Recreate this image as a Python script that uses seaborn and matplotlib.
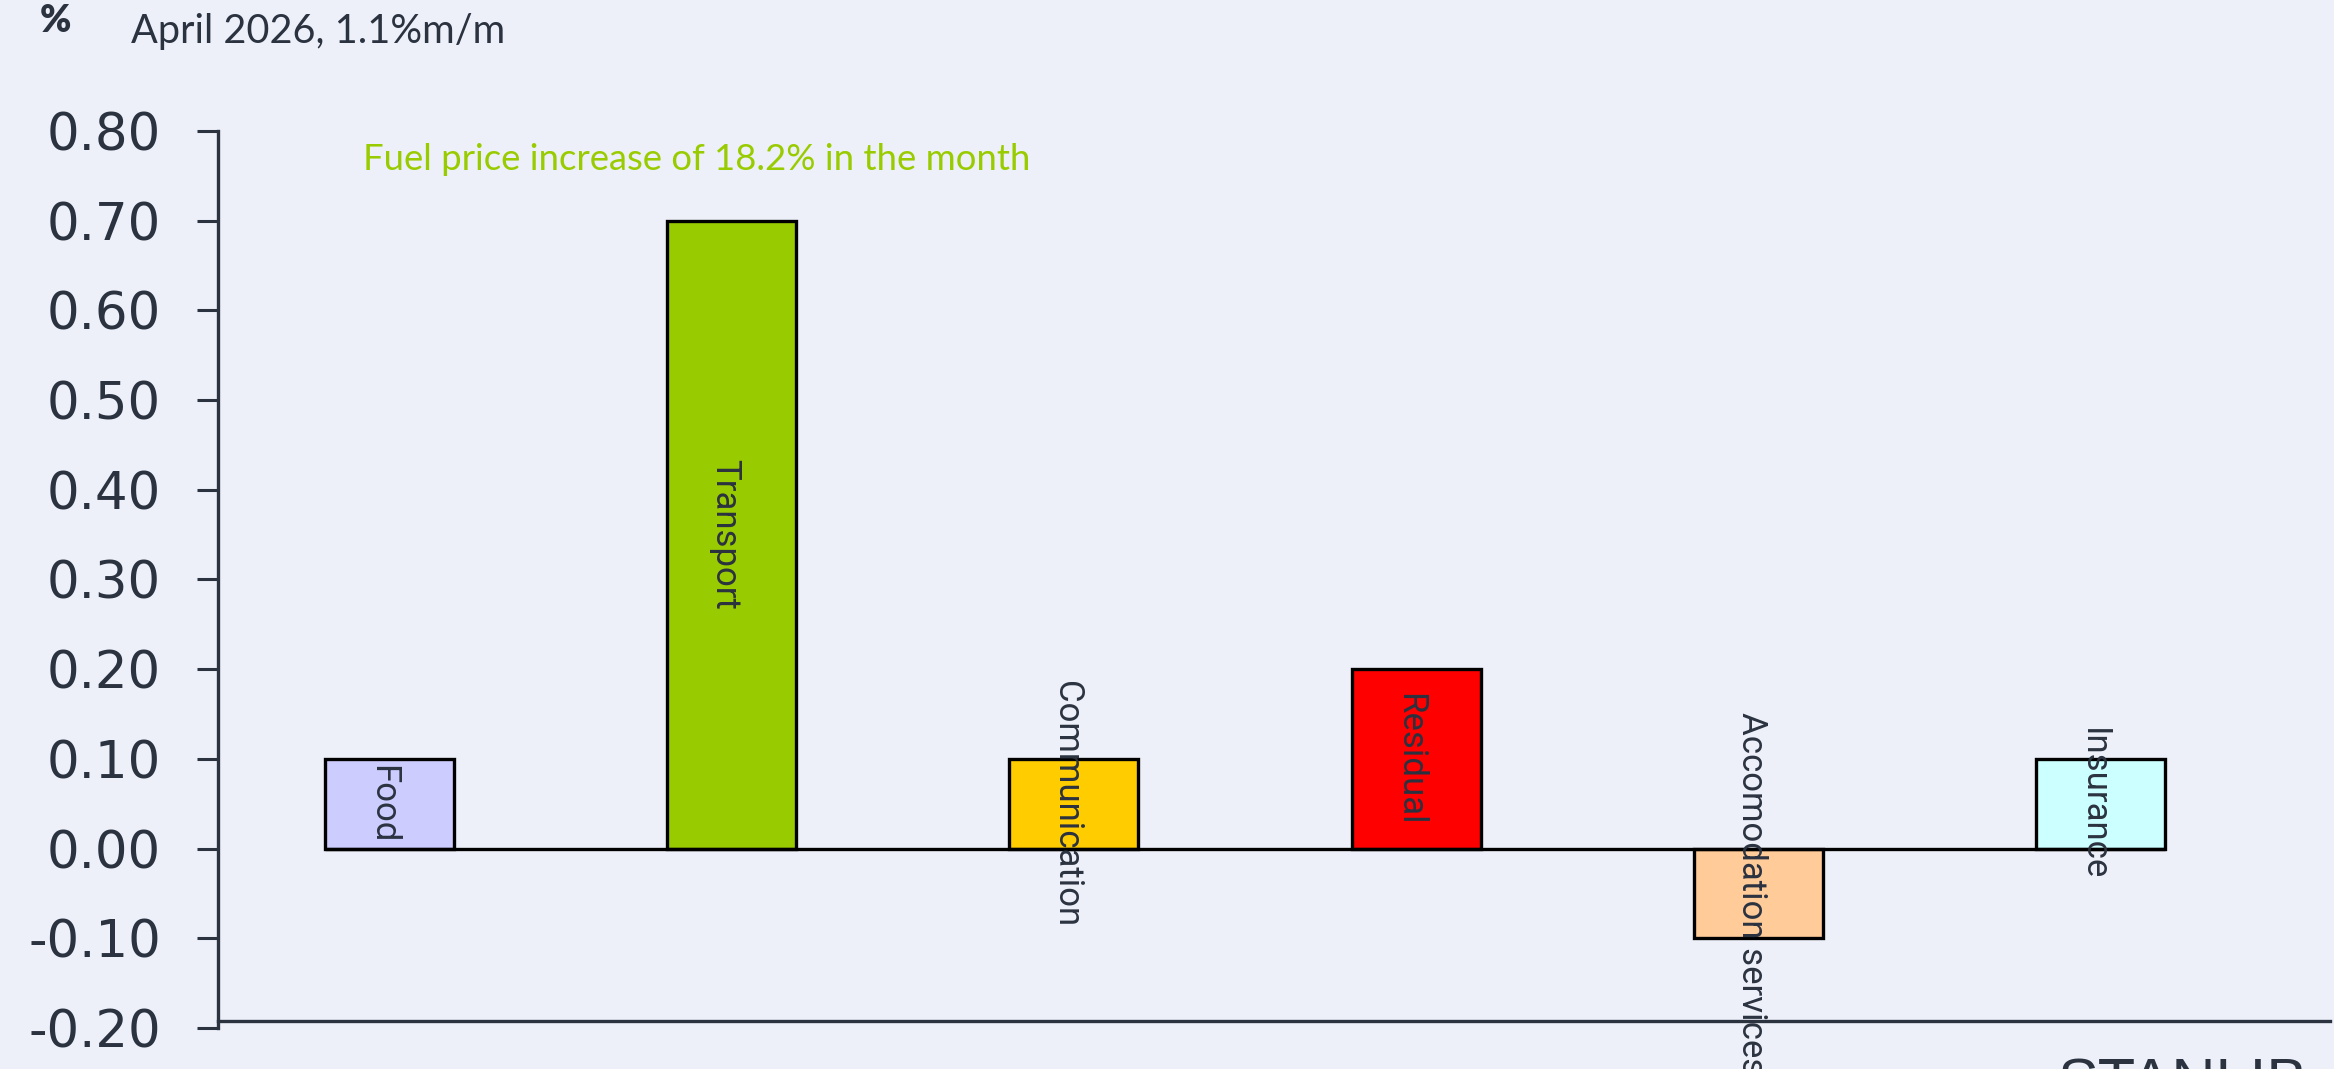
import matplotlib
matplotlib.use("Agg")
import matplotlib.pyplot as plt
import seaborn as sns
import pandas as pd

# contributions to m/m CPI, April 2026
categories = ["Food", "Transport", "Communication", "Residual",
              "Accomodation services", "Insurance"]
values = [0.10, 0.70, 0.10, 0.20, -0.10, 0.10]
bar_colors = ["#CCCCFF", "#99CC00", "#FFCC00", "#FF0000", "#FFCC99", "#CCFFFF"]
y_ticks = [-0.20, -0.10, 0.00, 0.10, 0.20, 0.30, 0.40, 0.50, 0.60, 0.70, 0.80]

unit_label = "%"
subtitle = "April 2026, 1.1%m/m"
note = "Fuel price increase of 18.2% in the month"
brand = "STANLIB"

bg = "#EDF0F8"
dark = "#2B3240"
green = "#99CC00"

sns.set_theme(style="white")
plt.rcParams["font.family"] = ["DejaVu Sans"]

df = pd.DataFrame({"category": categories, "value": values})

fig = plt.figure(figsize=(23.34, 10.69), dpi=100, facecolor=bg)
ax = fig.add_axes([218 / 2334, 1 - 1028 / 1069, (2330 - 218) / 2334, (1028 - 131) / 1069])
ax.set_facecolor(bg)

sns.barplot(data=df, x="category", y="value", hue="category",
            palette=bar_colors, legend=False, width=0.377,
            edgecolor="black", linewidth=2.4, saturation=1, ax=ax)

# baseline at zero, from first bar to last bar
left = min(p.get_x() for p in ax.patches)
right = max(p.get_x() + p.get_width() for p in ax.patches)
ax.hlines(0, left, right, color="black", lw=2.4, zorder=1)

# category names written inside the bars
for i, (cat, v) in enumerate(zip(categories, values)):
    ax.text(i - 0.02, v / 2, cat, rotation=270, ha="center", va="center",
            fontsize=25, color=dark, family=["Roboto", "DejaVu Sans"], zorder=5)

ax.set_ylim(-0.2, 0.8)
ax.set_xlim(-0.5, 5.67)
ax.set_yticks(y_ticks)
ax.set_yticklabels([f"{t:.2f}" for t in y_ticks])
ax.tick_params(axis="y", which="both", left=True, length=15, width=2.2,
               color=dark, labelsize=37, labelcolor=dark, pad=26)
ax.tick_params(axis="x", bottom=False, labelbottom=False)
ax.set_xlabel("")
ax.set_ylabel("")

for s in ["top", "right"]:
    ax.spines[s].set_visible(False)
ax.spines["left"].set_color(dark)
ax.spines["left"].set_linewidth(2.4)
ax.spines["bottom"].set_color(dark)
ax.spines["bottom"].set_linewidth(2.4)
ax.spines["bottom"].set_position(("data", -0.192))

# header
fig.text(40 / 2334, 1 - 21 / 1069, unit_label, fontsize=27, fontweight="heavy",
         color=dark, va="center", ha="left", family=["Lato", "DejaVu Sans"])
fig.text(131 / 2334, 1 - 32 / 1069, subtitle, fontsize=28.5, color=dark,
         va="center", ha="left", family=["Lato", "DejaVu Sans"])

ax.text(363 / 2334, 1 - 160 / 1069, note, transform=fig.transFigure,
        fontsize=26.3, color=green, va="center", ha="left",
        family=["Lato", "DejaVu Sans"])

# logo text, cut off by the bottom edge
fig.text(2057 / 2334, 1 - 1058 / 1069, brand, fontsize=44, color=dark,
         va="top", ha="left", family=["Liberation Sans", "DejaVu Sans"])

fig.savefig("out.png", dpi=100, facecolor=bg)
